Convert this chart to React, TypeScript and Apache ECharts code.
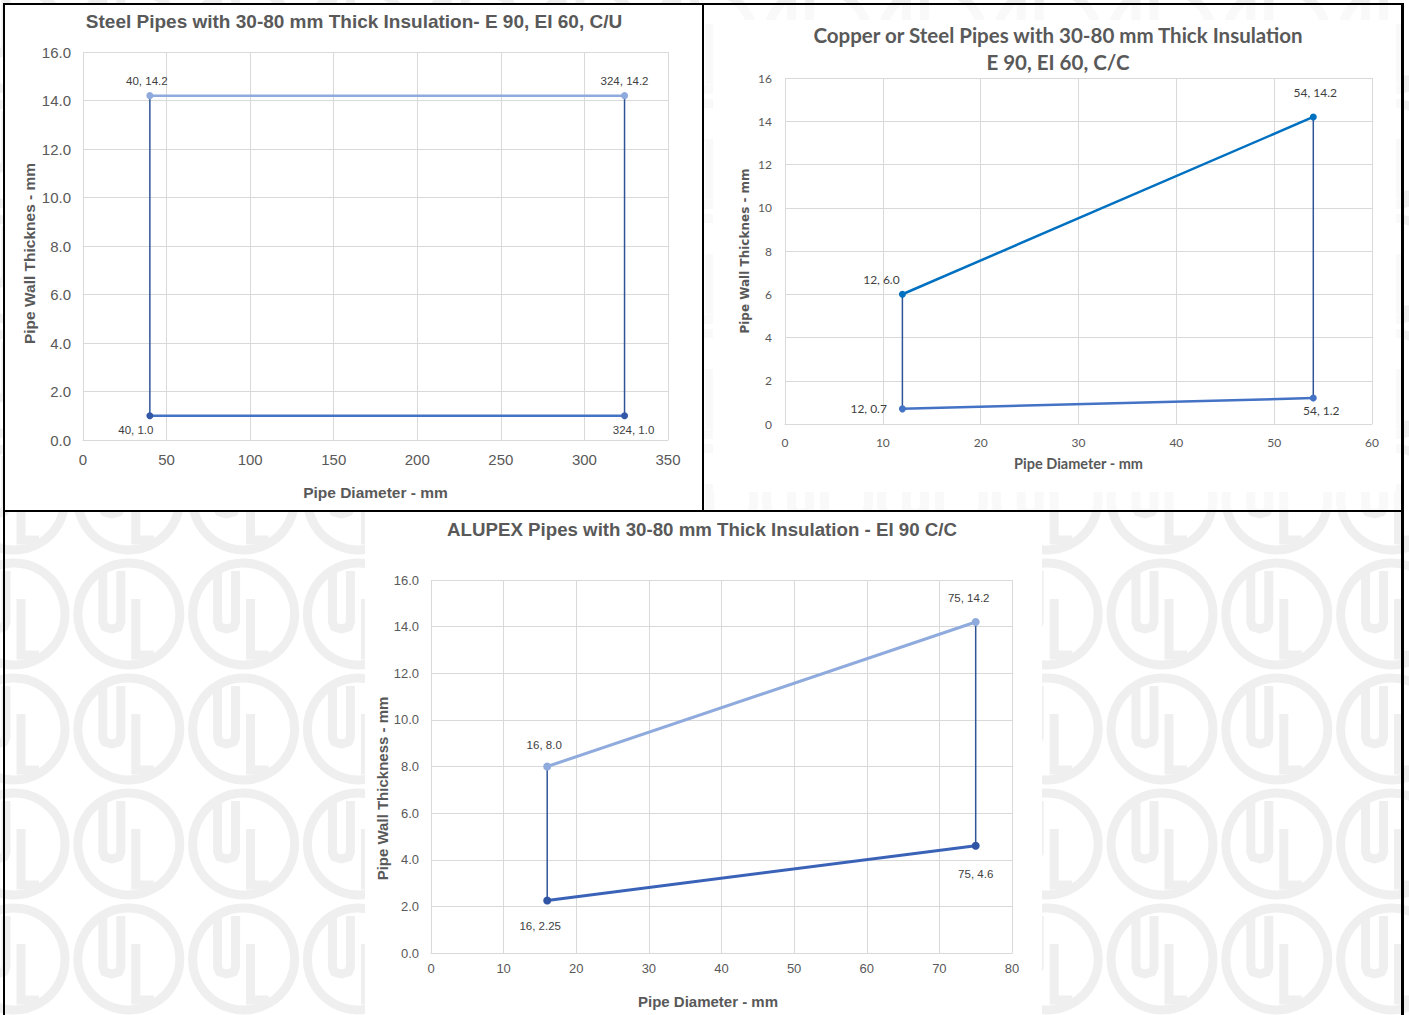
import React, { useEffect, useRef } from "react";
import * as echarts from "echarts";

// ---------- DATA ----------
const STEEL_X = [40, 324];
const STEEL_TOP = [14.2, 14.2];
const STEEL_BOTTOM = [1.0, 1.0];

const COPPER_X = [12, 54];
const COPPER_TOP = [6.0, 14.2];
const COPPER_BOTTOM = [0.7, 1.2];

const ALUPEX_X = [16, 75];
const ALUPEX_TOP = [8.0, 14.2];
const ALUPEX_BOTTOM = [2.25, 4.6];

const TITLES = [
  "Steel Pipes with 30-80 mm Thick Insulation- E 90, EI 60, C/U",
  "Copper or Steel Pipes with 30-80 mm Thick Insulation\nE 90, EI 60, C/C",
  "ALUPEX Pipes with 30-80 mm Thick Insulation - EI 90 C/C",
];
const X_NAME = "Pipe Diameter - mm";
const Y_NAMES = ["Pipe Wall Thicknes - mm", "Pipe Wall Thicknes - mm", "Pipe Wall Thickness - mm"];
const X_MAX = [350, 60, 80];
const X_STEP = [50, 10, 10];
const Y_MAX = [16, 16, 16];
const Y_STEP = [2, 2, 2];

// ---------- STYLE ----------
const ARIAL = "'Liberation Sans', Arial, sans-serif";
const LATO = "Lato, 'Liberation Sans', sans-serif";
const GRID_C = "#d9d9d9";
const TXT = "#595959";
const LBL = "#404040";
const WM = "#efefef";

const fmtY = (v: number) => (Number.isInteger(v) ? v.toFixed(1) : String(v));
const labelFmt = (p: any) => `${p.value[0]}, ${fmtY(p.value[1])}`;

type LCfg = { position: string; offset: number[] };

function buildSeries(
  idx: number,
  xs: number[],
  top: number[],
  bottom: number[],
  c: { top: string; topMarker: string; bottom: string; bottomMarker: string; vert: string },
  lt: LCfg[],
  lb: LCfg[],
  font: string,
  lsize: number,
  symbolSize: number,
  lineW: number
) {
  const base = { type: "line", xAxisIndex: idx, yAxisIndex: idx, animation: false, silent: true };
  const lbl = (cfg: LCfg) => ({
    show: true,
    position: cfg.position,
    offset: cfg.offset,
    formatter: labelFmt,
    color: LBL,
    fontSize: lsize,
    fontFamily: font,
  });
  return [
    {
      ...base,
      z: 20,
      data: [[xs[0], top[0]], [xs[0], bottom[0]]],
      showSymbol: false,
      symbol: "none",
      lineStyle: { color: c.vert, width: 1.5 },
    },
    {
      ...base,
      z: 20,
      data: [[xs[1], top[1]], [xs[1], bottom[1]]],
      showSymbol: false,
      symbol: "none",
      lineStyle: { color: c.vert, width: 1.5 },
    },
    {
      ...base,
      z: 21,
      data: xs.map((x, i) => ({ value: [x, top[i]], label: lbl(lt[i]) })),
      symbol: "circle",
      symbolSize,
      lineStyle: { color: c.top, width: lineW },
      itemStyle: { color: c.topMarker },
    },
    {
      ...base,
      z: 21,
      data: xs.map((x, i) => ({ value: [x, bottom[i]], label: lbl(lb[i]) })),
      symbol: "circle",
      symbolSize,
      lineStyle: { color: c.bottom, width: lineW },
      itemStyle: { color: c.bottomMarker },
    },
  ];
}

function buildWatermark() {
  const els: any[] = [];
  for (let j = -4; j <= 4; j++) {
    for (let k = 0; k <= 12; k++) {
      const cx = 14 + 114.8 * k;
      const cy = 499 + 115 * j;
      els.push({
        type: "circle",
        silent: true,
        z: 0,
        shape: { cx, cy, r: 51 },
        style: { fill: "none", stroke: WM, lineWidth: 9 },
      });
      els.push({
        type: "polyline",
        silent: true,
        z: 0,
        shape: {
          points: [
            [cx - 26, cy - 43],
            [cx - 26, cy + 8],
            [cx - 24, cy + 13],
            [cx - 17, cy + 15],
            [cx - 10, cy + 13],
            [cx - 8, cy + 8],
            [cx - 8, cy - 43],
          ],
        },
        style: { fill: "none", stroke: WM, lineWidth: 9, lineJoin: "round" },
      });
      els.push({
        type: "polyline",
        silent: true,
        z: 0,
        shape: { points: [[cx + 7, cy - 15], [cx + 7, cy + 41], [cx + 25, cy + 41]] },
        style: { fill: "none", stroke: WM, lineWidth: 9 },
      });
    }
  }
  return els;
}

function rect(x: number, y: number, w: number, h: number, fill: string, z: number, opacity = 1) {
  return { type: "rect", silent: true, z, shape: { x, y, width: w, height: h }, style: { fill, opacity } };
}

function axisPair(
  idx: number,
  font: string,
  xs: { size: number; margin: number; nameSize: number; nameGap: number; namePad: number[] },
  ys: { size: number; margin: number; nameSize: number; nameGap: number; namePad: number[]; nameFont: string; dec: boolean }
) {
  const x = {
    type: "value",
    gridIndex: idx,
    min: 0,
    max: X_MAX[idx],
    interval: X_STEP[idx],
    z: 10,
    axisLine: { show: true, lineStyle: { color: GRID_C, width: 1 } },
    axisTick: { show: false },
    splitLine: { show: true, lineStyle: { color: GRID_C, width: 1 } },
    axisLabel: { color: TXT, fontSize: xs.size, margin: xs.margin, fontFamily: font },
    name: X_NAME,
    nameLocation: "middle",
    nameGap: xs.nameGap,
    nameTextStyle: { color: TXT, fontSize: xs.nameSize, fontWeight: "bold", fontFamily: font, padding: xs.namePad },
  };
  const y = {
    type: "value",
    gridIndex: idx,
    min: 0,
    max: Y_MAX[idx],
    interval: Y_STEP[idx],
    z: 10,
    axisLine: { show: false },
    axisTick: { show: false },
    splitLine: { show: true, lineStyle: { color: GRID_C, width: 1 } },
    axisLabel: {
      color: TXT,
      fontSize: ys.size,
      margin: ys.margin,
      fontFamily: font,
      formatter: (v: number) => (ys.dec ? v.toFixed(1) : String(v)),
    },
    name: Y_NAMES[idx],
    nameLocation: "middle",
    nameGap: ys.nameGap,
    nameTextStyle: { color: TXT, fontSize: ys.nameSize, fontWeight: "bold", fontFamily: ys.nameFont, padding: ys.namePad },
  };
  return [x, y];
}

export default function App() {
  const ref = useRef<HTMLDivElement>(null);
  useEffect(() => {
    document.body.style.margin = "0";
    const chart = echarts.init(ref.current!, null, { renderer: "svg" });

    const [xa, ya] = axisPair(
      0,
      ARIAL,
      { size: 15, margin: 12, nameSize: 15.5, nameGap: 44, namePad: [0, 0, 0, 0] },
      { size: 15, margin: 12, nameSize: 15.5, nameGap: 40, namePad: [0, 15, 0, 0], nameFont: ARIAL, dec: true }
    );
    const [xb, yb] = axisPair(
      1,
      LATO,
      { size: 12, margin: 12, nameSize: 14.5, nameGap: 32, namePad: [0, 0, 0, 0] },
      { size: 12, margin: 13, nameSize: 12, nameGap: 34, namePad: [0, 0, 0, 0], nameFont: "'DejaVu Sans', sans-serif", dec: false }
    );
    const [xc, yc] = axisPair(
      2,
      ARIAL,
      { size: 13, margin: 9, nameSize: 15, nameGap: 41, namePad: [0, 27, 0, 0] },
      { size: 13, margin: 12, nameSize: 15, nameGap: 38, namePad: [0, 44, 0, 0], nameFont: ARIAL, dec: true }
    );

    const seriesA = buildSeries(
      0,
      STEEL_X,
      STEEL_TOP,
      STEEL_BOTTOM,
      { top: "#8faadc", topMarker: "#8faadc", bottom: "#4472c4", bottomMarker: "#3358a8", vert: "#2f5597" },
      [
        { position: "top", offset: [-3, 0] },
        { position: "top", offset: [0, 0] },
      ],
      [
        { position: "bottom", offset: [-14, 0] },
        { position: "bottom", offset: [9, 0] },
      ],
      ARIAL,
      11.5,
      7,
      2.5
    );
    const seriesB = buildSeries(
      1,
      COPPER_X,
      COPPER_TOP,
      COPPER_BOTTOM,
      { top: "#0070c0", topMarker: "#0070c0", bottom: "#4472c4", bottomMarker: "#4472c4", vert: "#2f5597" },
      [
        { position: "top", offset: [-21, 0] },
        { position: "top", offset: [2, -10] },
      ],
      [
        { position: "left", offset: [-7, 0] },
        { position: "bottom", offset: [8, -2] },
      ],
      LATO,
      12,
      7,
      2.5
    );
    const seriesC = buildSeries(
      2,
      ALUPEX_X,
      ALUPEX_TOP,
      ALUPEX_BOTTOM,
      { top: "#8faadc", topMarker: "#8faadc", bottom: "#3a63b8", bottomMarker: "#2f55a4", vert: "#2f5597" },
      [
        { position: "top", offset: [-3, -7] },
        { position: "top", offset: [-7, -9] },
      ],
      [
        { position: "bottom", offset: [-7, 10] },
        { position: "bottom", offset: [0, 13] },
      ],
      ARIAL,
      11.5,
      8,
      3
    );

    const graphicEls = [
      ...buildWatermark(),
      rect(5, 5, 697, 505, "#ffffff", 1),
      rect(704, 5, 697, 505, "#ffffff", 1, 0.6),
      rect(713, 20, 683, 472, "#ffffff", 1),
      rect(365, 512, 677, 503, "#ffffff", 1),
      rect(3, 3, 1401, 2, "#000000", 2),
      rect(3, 3, 2, 1012, "#000000", 2),
      rect(702, 3, 2, 508, "#000000", 2),
      rect(3, 510, 1401, 2, "#000000", 2),
      rect(1401, 3, 3, 1012, "#000000", 2),
    ];

    const option: any = {
      animation: false,
      backgroundColor: "#ffffff",
      title: [
        {
          text: TITLES[0],
          left: 354,
          top: 12,
          textAlign: "center",
          padding: 0,
          z: 30,
          textStyle: { fontSize: 19, fontWeight: "bold", color: TXT, fontFamily: ARIAL },
        },
        {
          text: TITLES[1],
          left: 1058,
          top: 21,
          textAlign: "center",
          padding: 0,
          z: 30,
          textStyle: { fontSize: 20.5, lineHeight: 27, fontWeight: "bold", color: TXT, fontFamily: LATO },
        },
        {
          text: TITLES[2],
          left: 702,
          top: 520,
          textAlign: "center",
          padding: 0,
          z: 30,
          textStyle: { fontSize: 18.7, fontWeight: "bold", color: TXT, fontFamily: ARIAL },
        },
      ],
      grid: [
        { left: 83, top: 52, width: 585, height: 388, containLabel: false },
        { left: 785, top: 78, width: 587, height: 346, containLabel: false },
        { left: 431, top: 580, width: 581, height: 373, containLabel: false },
      ],
      xAxis: [xa, xb, xc],
      yAxis: [ya, yb, yc],
      series: [...seriesA, ...seriesB, ...seriesC],
      graphic: { elements: graphicEls },
    };
    chart.setOption(option);
    return () => chart.dispose();
  }, []);
  return (
    <div
      ref={ref}
      style={{ position: "absolute", left: 0, top: 0, width: 1409, height: 1015 }}
    />
  );
}
